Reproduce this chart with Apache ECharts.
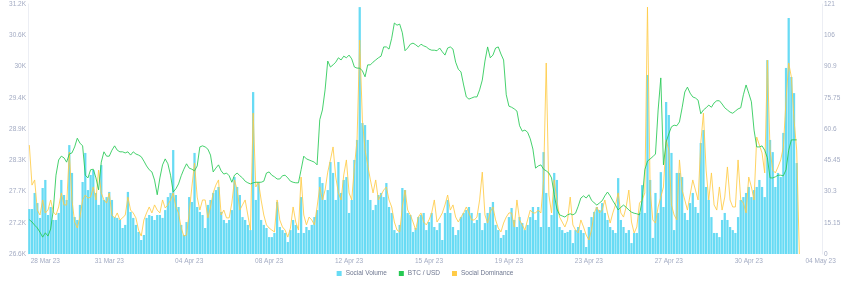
<!DOCTYPE html>
<html><head><meta charset="utf-8">
<script src="https://cdn.jsdelivr.net/npm/echarts@6/dist/echarts.min.js"></script>
<style>html,body{margin:0;padding:0;background:#fff}#c{width:850px;height:288px}</style>
</head><body><div id="c"></div>
<script>
// 3-hour buckets starting 28 Mar 2023 00:00 UTC
const startDate = '2023-03-28T00:00:00Z';
const stepHours = 3;
const totalBuckets = 298;

const xTickIndices = [6, 30, 60, 90, 120, 150, 180, 210, 240, 270, 297];
const xTickLabels = ['28 Mar 23','31 Mar 23','04 Apr 23','08 Apr 23','12 Apr 23','15 Apr 23','19 Apr 23','23 Apr 23','27 Apr 23','30 Apr 23','04 May 23'];

const btcTicks = [26600, 27175, 27750, 28325, 28900, 29475, 30050, 30625, 31200];
const btcTickLabels = ['26.6K','27.2K','27.7K','28.3K','28.9K','29.4K','30K','30.6K','31.2K'];
const rightTicks = [0, 15.15, 30.3, 45.45, 60.6, 75.75, 90.9, 106.05, 121.2];
const rightTickLabels = ['0','15.15','30.3','45.45','60.6','75.75','90.9','106','121'];

const socialVolume = [
21.8,21.8,29.6,24.7,17.5,32.0,35.9,18.9,22.8,16.5,
16.5,19.9,35.9,28.6,26.2,52.8,39.3,17.9,16.5,23.8,
34.9,49.0,31.0,38.3,40.7,29.6,23.8,43.1,26.2,27.6,
30.1,26.2,17.9,17.5,16.5,12.6,14.1,30.1,20.4,17.5,
14.1,10.7,6.8,9.2,17.5,18.9,18.4,16.5,18.9,18.9,
17.5,21.3,27.6,29.6,50.4,28.6,22.8,14.1,9.2,15.5,
27.6,25.2,49.0,22.8,20.4,18.9,12.6,23.8,26.2,29.6,
31.0,32.5,20.4,16.5,15.0,16.5,21.3,37.3,32.5,28.6,
17.9,16.5,14.1,11.6,78.5,26.2,34.9,16.5,14.1,12.6,
8.2,8.2,10.2,25.2,13.1,11.6,10.2,5.8,11.6,16.5,
14.1,10.2,27.6,10.2,13.1,11.6,14.1,17.9,21.3,37.3,
34.4,26.2,31.0,44.6,39.3,26.2,44.6,29.6,35.9,37.3,
19.9,26.2,45.6,55.3,119.7,63.5,62.5,55.3,26.2,21.3,
23.8,28.6,29.6,27.6,34.4,22.8,19.9,11.6,10.2,14.1,
32.0,31.0,19.9,18.9,10.7,12.6,17.9,18.9,19.9,11.6,
15.5,19.9,13.1,11.6,15.0,6.8,19.9,26.2,19.9,13.1,
9.2,11.6,17.9,19.9,21.3,22.8,19.9,15.0,16.5,19.9,
11.6,15.0,19.9,22.8,25.2,14.1,11.6,7.8,9.2,11.6,
17.9,22.3,16.5,13.1,17.9,15.0,11.6,14.1,17.9,22.8,
16.5,22.8,13.1,49.4,29.6,13.1,18.9,39.3,35.9,13.1,
11.6,10.2,10.7,11.6,5.3,11.6,13.1,11.6,10.2,3.4,
13.1,17.9,20.4,22.8,21.3,24.7,19.9,16.5,13.1,11.6,
10.2,36.8,16.5,13.1,10.2,11.6,5.3,10.2,10.2,19.9,
33.4,19.9,86.8,35.9,7.8,29.6,19.9,39.7,22.8,73.7,
67.4,49.0,11.6,39.3,39.3,37.3,19.9,16.5,24.7,29.6,
22.8,19.9,53.8,60.1,32.5,26.2,17.9,10.2,10.2,8.2,
16.5,19.9,16.5,13.1,11.6,10.2,17.9,26.2,27.6,29.6,
32.5,27.6,31.0,32.5,35.9,32.5,27.6,94.0,55.3,49.4,
32.5,39.3,37.3,58.7,90.2,114.4,85.8,78.0,44.1
];

const btcUsd = [
27230,27190,27130,27080,27000,26910,26990,26930,27060,27410,
28050,28330,28400,28370,28290,28440,28460,28570,28730,28640,
28590,28050,28000,28150,28160,28000,27780,28290,28480,28400,
28400,28510,28590,28510,28480,28480,28460,28480,28420,28480,
28440,28420,28390,28310,28220,28150,28110,27960,27690,28000,
28240,28350,28260,28050,27740,27800,27890,28040,28160,28260,
28180,28160,28130,28220,28570,28590,28570,28530,28420,28110,
28180,28240,28130,28070,28090,28040,27920,28050,28090,28040,
28000,27940,27910,27890,27910,27920,27920,27920,27940,28090,
28110,28050,28020,27980,27980,28040,28050,28000,27940,27920,
27910,27910,28150,28400,28350,28330,28310,28290,28240,29070,
29250,29620,30150,30040,30080,30130,30210,30170,30240,30210,
30260,30190,30040,30020,30020,29970,29860,30080,30080,30130,
30170,30210,30240,30410,30410,30370,30570,30850,30810,30830,
30670,30340,30390,30460,30480,30450,30410,30460,30430,30410,
30370,30350,30350,30340,30390,30320,30260,30390,30410,30370,
30130,30000,29950,29710,29490,29450,29470,29490,29490,29620,
29800,30150,30410,30210,30260,30390,30410,30280,30170,29530,
29320,29300,29270,29230,28960,28860,28880,28840,28720,28530,
28180,28220,28240,28160,28130,28090,28000,27690,27430,27320,
27300,27280,27320,27340,27320,27350,27480,27630,27670,27630,
27690,27590,27540,27500,27540,27580,27670,27740,27670,27580,
27500,27410,27460,27500,27460,27410,27370,27350,27340,27320,
27590,28150,28310,28350,28390,28440,29250,29840,28240,28660,
28810,28940,28970,28960,29030,29290,29580,29670,29560,29490,
29470,29430,29180,29250,29290,29340,29300,29380,29420,29420,
29360,29290,29250,29210,29190,29230,29270,29290,29530,29710,
29560,29400,28880,28570,28570,28590,28510,28370,28000,28000,
28020,28050,28050,28040,28150,28510,28700,28700,28700
];

const socialDominance = [
52.8,33.4,35.9,21.3,18.9,26.2,19.9,21.3,26.2,20.4,
18.9,22.8,29.6,23.8,23.8,49.4,26.2,15.5,12.6,17.9,
26.2,28.6,27.1,27.6,32.5,26.2,40.7,29.6,26.2,24.7,
29.6,18.9,17.5,19.9,16.5,17.5,18.9,27.6,21.3,19.9,
17.5,11.6,8.7,16.5,19.9,22.8,19.9,23.8,21.3,19.9,
26.2,22.3,23.8,26.2,29.6,22.8,19.9,12.6,8.7,9.2,
19.9,32.5,44.1,27.6,21.3,26.2,26.2,17.5,22.8,29.6,
33.4,35.9,18.9,21.3,17.5,17.5,24.7,35.9,31.0,21.3,
23.8,26.2,18.9,11.6,68.3,32.5,34.9,26.2,18.9,14.1,
12.6,11.6,10.7,26.2,16.5,13.1,11.6,8.2,12.6,22.8,
15.5,11.6,37.3,18.9,14.1,17.9,16.5,14.1,22.8,32.5,
26.2,31.0,39.7,45.6,51.9,37.3,29.6,26.2,38.3,45.6,
29.6,26.2,42.2,55.3,103.7,65.0,50.4,43.1,35.9,29.6,
35.9,26.2,28.6,31.0,32.5,26.2,22.8,15.5,11.6,10.7,
22.8,31.0,21.3,18.9,15.5,11.6,17.9,19.9,15.5,14.1,
16.5,19.9,26.2,15.5,17.5,19.9,23.8,28.6,21.3,23.8,
17.9,15.5,17.9,19.9,22.8,19.9,16.5,16.5,17.9,26.2,
39.7,18.9,15.0,20.4,22.8,16.5,12.6,10.7,15.0,17.9,
19.9,19.9,13.1,26.2,16.5,14.1,11.6,16.5,21.3,19.9,
19.9,21.3,19.9,35.9,92.6,28.6,19.9,35.9,26.2,17.9,
15.5,13.1,16.5,27.6,14.1,11.6,10.2,16.5,13.1,9.2,
6.8,11.6,19.9,22.8,19.9,21.3,26.2,19.9,15.0,19.9,
23.8,29.6,19.9,17.9,22.8,31.0,15.5,10.2,13.1,24.7,
26.2,29.6,119.7,31.0,16.5,15.0,22.8,27.6,32.5,55.3,
50.4,23.8,18.9,16.5,45.6,31.0,26.2,21.3,28.6,35.9,
31.0,26.2,53.8,68.3,40.7,26.2,39.3,23.8,21.3,32.5,
21.3,27.6,42.2,26.2,22.8,22.8,45.6,26.2,24.7,19.9,
37.3,32.5,26.2,56.7,52.8,49.0,39.3,94.0,50.4,40.7,
39.3,42.2,45.6,51.9,74.6,92.6,85.8,65.0,50.4,0
];

const t0 = Date.parse(startDate);
const categories = Array.from({length: totalBuckets}, (_, i) => new Date(t0 + i * stepHours * 3600e3).toISOString());

function pickLabel(ticks, labels, v) {
  for (let k = 0; k < ticks.length; k++) {
    if (Math.abs(ticks[k] - v) < 1e-6 * Math.max(1, Math.abs(v)) + 1e-9) return labels[k];
  }
  return '';
}

const FONT = 'Liberation Sans, Arial, sans-serif';
const chart = echarts.init(document.getElementById('c'), null, {renderer: 'canvas'});
chart.setOption({
  animation: false,
  backgroundColor: '#ffffff',
  grid: {left: 28, right: 28, top: 4, bottom: 34, containLabel: false},
  legend: {
    bottom: 6, left: 'center',
    icon: 'rect', itemWidth: 5, itemHeight: 5, itemGap: 12,
    textStyle: {fontSize: 6.5, color: '#6f7891', fontFamily: FONT, padding: [0, 0, 0, -1]},
    data: ['Social Volume', 'BTC / USD', 'Social Dominance']
  },
  xAxis: {
    type: 'category',
    data: categories,
    boundaryGap: true,
    axisLine: {show: false},
    axisTick: {show: false},
    splitLine: {show: false},
    axisLabel: {
      interval: (index) => xTickIndices.includes(index),
      formatter: (value, index) => {
        const k = xTickIndices.indexOf(index);
        return k >= 0 ? xTickLabels[k] : '';
      },
      color: '#a3abc3', fontSize: 6.5, fontFamily: FONT, margin: 4
    }
  },
  yAxis: [
    {
      type: 'value', position: 'left', min: 26600, max: 31200,
      axisLine: {show: true, lineStyle: {color: '#eceef4', width: 1}},
      axisTick: {show: false},
      splitLine: {show: false},
      axisLabel: {
        customValues: btcTicks,
        formatter: (v) => pickLabel(btcTicks, btcTickLabels, v),
        color: '#a3abc3', fontSize: 6.5, fontFamily: FONT, margin: 2
      }
    },
    {
      type: 'value', position: 'right', min: 0, max: 121.2,
      axisLine: {show: true, lineStyle: {color: '#eceef4', width: 1}},
      axisTick: {show: false},
      splitLine: {show: false},
      axisLabel: {
        customValues: rightTicks,
        formatter: (v) => pickLabel(rightTicks, rightTickLabels, v),
        color: '#a3abc3', fontSize: 6.5, fontFamily: FONT, margin: 2
      }
    }
  ],
  series: [
    {
      name: 'Social Volume', type: 'bar', yAxisIndex: 1,
      data: socialVolume,
      barWidth: '85%',
      itemStyle: {color: '#68dbf4'},
      emphasis: {disabled: true}
    },
    {
      name: 'Social Dominance', type: 'line', yAxisIndex: 1,
      data: socialDominance,
      showSymbol: false, symbol: 'none',
      lineStyle: {color: '#ffcb47', width: 1, opacity: 0.85},
      itemStyle: {color: '#ffcb47'},
      z: 3
    },
    {
      name: 'BTC / USD', type: 'line', yAxisIndex: 0,
      data: btcUsd,
      showSymbol: false, symbol: 'none',
      lineStyle: {color: '#26c953', width: 1, opacity: 0.85},
      itemStyle: {color: '#26c953'},
      z: 4
    }
  ]
});
</script>
</body></html>
